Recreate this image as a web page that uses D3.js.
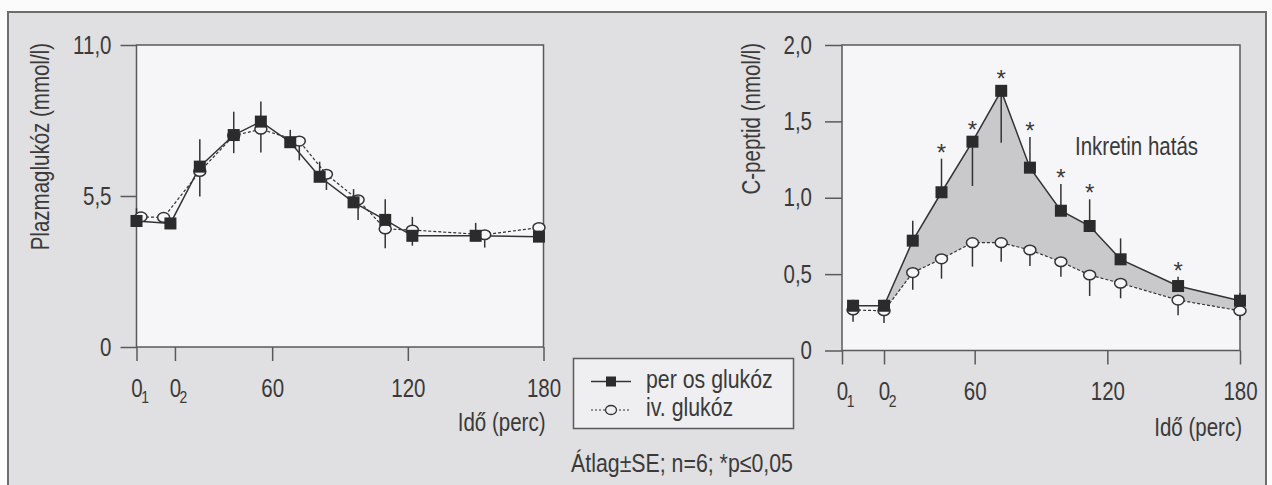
<!DOCTYPE html>
<html>
<head>
<meta charset="utf-8">
<script src="https://cdn.jsdelivr.net/npm/d3@7"></script>
<style>
    body { margin: 0; background: #fbfbfb; }
    svg { display: block; font-family: "Liberation Sans", Arial, sans-serif; }
</style>
</head>
<body>
<script>
// time points (perc) as they sit on the picture
const glucOralTimes = [0, 15, 28, 43, 55, 68, 81, 96, 110, 122, 150, 178]
const glucIvTimes = [2, 12, 28, 43, 55, 72, 84, 98, 110, 122, 154, 178]
const cpepTimes = [5, 19, 32, 45, 59, 72, 85, 99, 112, 126, 152, 180]

// plazmaglukóz (mmol/l), mean and SE
const glucOral = [4.59, 4.5, 6.57, 7.72, 8.21, 7.46, 6.2, 5.27, 4.63, 4.05, 4.05, 4.02]
const glucOralSE = [0.46, 0.2, 1.0, 0.85, 0.73, 0.45, 0.55, 0.48, 0.75, 0.69, 0.47, 0.2]
const glucIv = [4.74, 4.72, 6.39, 7.7, 7.93, 7.5, 6.29, 5.36, 4.3, 4.26, 4.09, 4.35]
const glucIvSE = [0.2, 0.15, 0.91, 0.64, 0.85, 0.7, 0.57, 0.73, 0.7, 0.57, 0.47, 0.2]

// C-peptid (nmol/l), mean and SE
const cpepOral = [0.293, 0.293, 0.719, 1.036, 1.367, 1.70, 1.197, 0.915, 0.815, 0.597, 0.422, 0.326]
const cpepOralSE = [0.04, 0.04, 0.13, 0.22, 0.29, 0.34, 0.2, 0.175, 0.175, 0.137, 0.06, 0.05]
const cpepOralSEdown = [4, 5] // these two bars point downwards
const cpepIv = [0.265, 0.26, 0.51, 0.60, 0.706, 0.706, 0.658, 0.581, 0.494, 0.44, 0.33, 0.26]
const cpepIvSE = [0.077, 0.08, 0.113, 0.13, 0.157, 0.125, 0.105, 0.098, 0.137, 0.098, 0.1, 0.06]
const cpepSignificant = [3, 4, 5, 6, 7, 8, 10]

// ticks
const glucTickTimes = [0, 17, 60, 120, 180]
const cpepTickTimes = [0, 19, 60, 120, 180]
const xTickLabels = [['0', '1'], ['0', '2'], ['60'], ['120'], ['180']]
const glucYTicks = [0, 5.5, 11]
const cpepYTicks = [0, 0.5, 1, 1.5, 2]

const seriesNames = ['per os glukóz', 'iv. glukóz']

const measurements = {
    width: 1272,
    height: 485
}

const ink = '#333'
const axisInk = '#5a5a5a'
const textInk = '#3a3a3a'
const plotColor = '#f6f5f7'

const svg = d3.select('body').append('svg')
    .attr('width', measurements.width)
    .attr('height', measurements.height)

// the printed font is a condensed grotesque, so squeeze Liberation Sans sideways
function condense(sel, rotate) {
    sel.each(function () {
        const t = d3.select(this)
        const x = +t.attr('x') || 0
        const y = +t.attr('y') || 0
        t.attr('x', null).attr('y', null)
            .attr('transform', `translate(${x},${y})${rotate ? ` rotate(${rotate})` : ''} scale(0.82,1)`)
    })
}

// grey page with dark frame
svg.append('rect')
    .attr('x', 8).attr('y', 12)
    .attr('width', 1258).attr('height', 480)
    .attr('fill', '#e0dfe1')
    .attr('stroke', '#6d6d6d')
    .attr('stroke-width', 2)

const commaFormat = d => d === 0 ? '0' : d3.format('.1f')(d).replace('.', ',')

function drawPanel(cfg) {
    const x = d3.scaleLinear().domain([0, 180]).range([cfg.left, cfg.right])
    const y = d3.scaleLinear().domain([0, cfg.yMax]).range([cfg.bottom, cfg.top])
    const g = svg.append('g')

    // white plot area
    g.append('rect')
        .attr('x', cfg.left).attr('y', cfg.top)
        .attr('width', cfg.right - cfg.left).attr('height', cfg.bottom - cfg.top)
        .attr('fill', plotColor)
        .attr('stroke', axisInk)
        .attr('stroke-width', 1.5)

    // y axis
    const yAxis = g.append('g')
        .attr('transform', `translate(${cfg.left},0)`)
        .call(d3.axisLeft(y).tickValues(cfg.yTicks).tickSize(cfg.yTickSize).tickPadding(cfg.yPad).tickFormat(commaFormat))
    yAxis.select('.domain').remove()

    // x axis
    const xAxis = g.append('g')
        .attr('transform', `translate(0,${cfg.bottom})`)
        .call(d3.axisBottom(x).tickValues(cfg.xTicks).tickSize(14).tickPadding(18).tickFormat((d, i) => xTickLabels[i][0]))
    xAxis.select('.domain').remove()

    g.selectAll('.tick line').attr('stroke', axisInk).attr('stroke-width', 1.5)
    g.selectAll('.tick text').attr('fill', textInk).attr('font-size', 25).attr('font-family', null)
    condense(g.selectAll('.tick text'))

    // subscripts for 0_1 and 0_2
    xAxis.selectAll('.tick').each(function (d, i) {
        if (xTickLabels[i].length > 1) {
            d3.select(this).append('text')
                .attr('x', 8).attr('y', 56)
                .attr('fill', textInk)
                .attr('font-size', 17)
                .text(xTickLabels[i][1])
                .call(condense)
        }
    })

    // axis titles
    g.append('text')
        .attr('x', cfg.yTitleX).attr('y', cfg.top - 2)
        .attr('text-anchor', 'end')
        .attr('fill', textInk)
        .attr('font-size', 25)
        .text(cfg.yTitle)
        .call(condense, -90)
    g.append('text')
        .attr('x', cfg.right + 2).attr('y', cfg.xTitleY)
        .attr('text-anchor', 'end')
        .attr('fill', textInk)
        .attr('font-size', 25)
        .text('Idő (perc)')
        .call(condense)

    const oralPts = cfg.oral.map((v, i) => ({ t: cfg.oralTimes[i], v: v, se: cfg.oralSE[i], i: i }))
    const ivPts = cfg.iv.map((v, i) => ({ t: cfg.ivTimes[i], v: v, se: cfg.ivSE[i], i: i }))

    // shaded difference between the curves
    if (cfg.shade) {
        const area = d3.area()
            .x(d => x(d.t))
            .y0(d => y(cfg.iv[d.i]))
            .y1(d => y(d.v))
        g.append('path')
            .datum(oralPts.slice(1))
            .attr('d', area)
            .attr('fill', '#c9c8ca')
    }

    const line = d3.line().x(d => x(d.t)).y(d => y(d.v))

    g.append('path')
        .datum(ivPts)
        .attr('d', line)
        .attr('fill', 'none')
        .attr('stroke', ink)
        .attr('stroke-width', 1.2)
        .attr('stroke-dasharray', '3,2')

    g.append('path')
        .datum(oralPts)
        .attr('d', line)
        .attr('fill', 'none')
        .attr('stroke', ink)
        .attr('stroke-width', 1.5)

    // SE bars: oral upwards (unless listed), iv downwards
    g.selectAll('.bar-iv')
        .data(ivPts)
        .enter()
        .append('line')
        .attr('x1', d => x(d.t)).attr('x2', d => x(d.t))
        .attr('y1', d => y(d.v)).attr('y2', d => y(d.v - d.se))
        .attr('stroke', ink)
        .attr('stroke-width', 1.5)

    g.selectAll('.bar-oral')
        .data(oralPts)
        .enter()
        .append('line')
        .attr('x1', d => x(d.t)).attr('x2', d => x(d.t))
        .attr('y1', d => y(d.v))
        .attr('y2', d => cfg.oralDown.includes(d.i) ? y(d.v - d.se) : y(d.v + d.se))
        .attr('stroke', ink)
        .attr('stroke-width', 1.5)

    // markers
    g.selectAll('.circle')
        .data(ivPts)
        .enter()
        .append('ellipse')
        .attr('cx', d => x(d.t))
        .attr('cy', d => y(d.v))
        .attr('rx', 6)
        .attr('ry', 4.8)
        .attr('fill', plotColor)
        .attr('stroke', ink)
        .attr('stroke-width', 1.5)

    g.selectAll('.square')
        .data(oralPts)
        .enter()
        .append('rect')
        .attr('x', d => x(d.t) - 6)
        .attr('y', d => y(d.v) - 6)
        .attr('width', 12)
        .attr('height', 12)
        .attr('fill', '#2b2b2b')

    // significance stars
    g.selectAll('.star')
        .data(oralPts.filter(d => cfg.stars.includes(d.i)))
        .enter()
        .append('text')
        .attr('x', d => x(d.t))
        .attr('y', d => {
            const top = cfg.oralDown.includes(d.i) ? y(d.v) - 6 : Math.min(y(d.v) - 6, y(d.v + d.se))
            return top - 12 + 14
        })
        .attr('text-anchor', 'middle')
        .attr('font-size', 24)
        .attr('fill', textInk)
        .text('*')

    return { x: x, y: y, g: g }
}

// left panel: plazmaglukóz
drawPanel({
    left: 136.5, right: 543.5, top: 45, bottom: 347,
    yMax: 11, yTicks: glucYTicks, yTickSize: 16, yPad: 9,
    xTicks: glucTickTimes,
    yTitle: 'Plazmaglukóz (mmol/l)', yTitleX: 49, xTitleY: 431,
    oral: glucOral, oralSE: glucOralSE, oralTimes: glucOralTimes, oralDown: [],
    iv: glucIv, ivSE: glucIvSE, ivTimes: glucIvTimes,
    shade: false, stars: []
})

// right panel: C-peptid
const right = drawPanel({
    left: 842, right: 1240, top: 45, bottom: 350.5,
    yMax: 2, yTicks: cpepYTicks, yTickSize: 17, yPad: 13,
    xTicks: cpepTickTimes,
    yTitle: 'C-peptid (nmol/l)', yTitleX: 760, xTitleY: 436,
    oral: cpepOral, oralSE: cpepOralSE, oralTimes: cpepTimes, oralDown: cpepOralSEdown,
    iv: cpepIv, ivSE: cpepIvSE, ivTimes: cpepTimes,
    shade: true, stars: cpepSignificant
})

right.g.append('text')
    .attr('x', 1075).attr('y', 155)
    .attr('fill', textInk)
    .attr('font-size', 25)
    .text('Inkretin hatás')
    .call(condense)

// legend
const legend = svg.append('g')
legend.append('rect')
    .attr('x', 573.5).attr('y', 358.5)
    .attr('width', 220).attr('height', 70)
    .attr('fill', '#efeef0')
    .attr('stroke', axisInk)
    .attr('stroke-width', 1.5)

const legendRows = seriesNames.map((name, i) => ({ name: name, y: 381.5 + i * 28.5, oral: i === 0 }))

legend.selectAll('.lline')
    .data(legendRows)
    .enter()
    .append('line')
    .attr('x1', 591).attr('x2', 631)
    .attr('y1', d => d.y).attr('y2', d => d.y)
    .attr('stroke', ink)
    .attr('stroke-width', d => d.oral ? 1.5 : 1.1)
    .attr('stroke-dasharray', d => d.oral ? null : '2,2')

legendRows.forEach(d => {
    if (d.oral) {
        legend.append('rect')
            .attr('x', 606).attr('y', d.y - 5)
            .attr('width', 10).attr('height', 10)
            .attr('fill', '#2b2b2b')
    } else {
        legend.append('ellipse')
            .attr('cx', 611).attr('cy', d.y)
            .attr('rx', 5.5).attr('ry', 4.5)
            .attr('fill', '#efeef0')
            .attr('stroke', ink)
            .attr('stroke-width', 1.3)
    }
})

legend.selectAll('.ltext')
    .data(legendRows)
    .enter()
    .append('text')
    .attr('x', 646)
    .attr('y', d => d.y + 6)
    .attr('fill', textInk)
    .attr('font-size', 26)
    .text(d => d.name)
    .call(condense)

// footnote
svg.append('text')
    .attr('x', 682).attr('y', 472)
    .attr('text-anchor', 'middle')
    .attr('fill', textInk)
    .attr('font-size', 26)
    .text('Átlag±SE; n=6; *p≤0,05')
    .call(condense)
</script>
</body>
</html>
